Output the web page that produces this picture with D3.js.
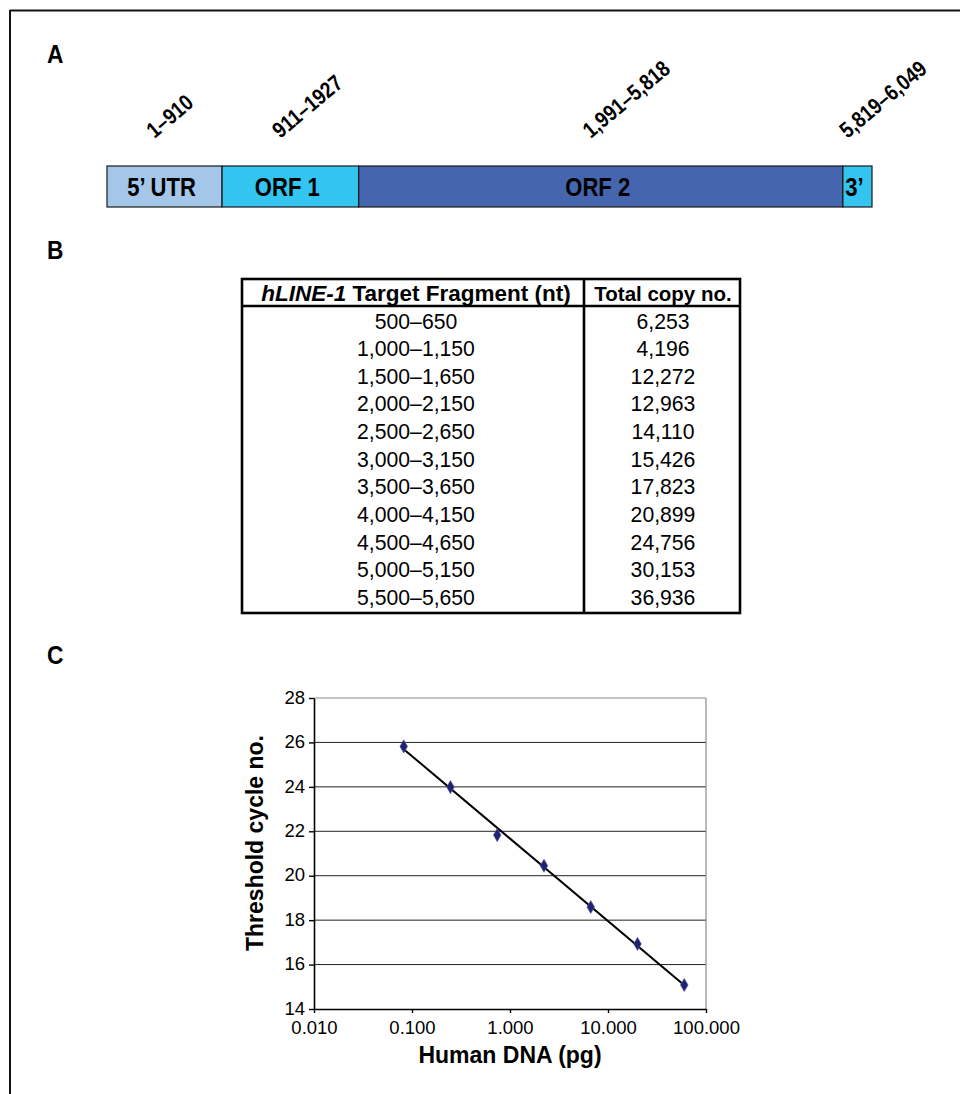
<!DOCTYPE html>
<html>
<head>
<meta charset="utf-8">
<script src="https://cdn.jsdelivr.net/npm/d3@7"></script>
<style>
  html, body { margin: 0; padding: 0; background: #fff; }
  svg { display: block; font-family: "Liberation Sans", Arial, Helvetica, sans-serif; }
</style>
</head>
<body>
<svg id="fig" width="960" height="1094"></svg>
<script>
// ---------- Panel A data ----------
const segNames  = ["5\u2019 UTR", "ORF 1", "ORF 2", "3\u2019"];
const segStarts = [1, 911, 1991, 5819];
const segEnds   = [910, 1927, 5818, 6049];
const segRanges = ["1\u2013910", "911\u20131927", "1,991\u20135,818", "5,819\u20136,049"];
const segColors = ["#a3c6e9", "#33c4f0", "#4565ae", "#33c4f0"];

// ---------- Panel B data ----------
const fragments = ["500\u2013650", "1,000\u20131,150", "1,500\u20131,650", "2,000\u20132,150",
  "2,500\u20132,650", "3,000\u20133,150", "3,500\u20133,650", "4,000\u20134,150",
  "4,500\u20134,650", "5,000\u20135,150", "5,500\u20135,650"];
const copyNumbers = [6253, 4196, 12272, 12963, 14110, 15426, 17823, 20899, 24756, 30153, 36936];

// ---------- Panel C data ----------
const humanDNA = [0.0823, 0.247, 0.741, 2.222, 6.667, 20, 60];
const thresholdCycle = [25.82, 23.99, 21.83, 20.45, 18.59, 16.93, 15.08];
const xTickValues = [0.01, 0.1, 1, 10, 100];
const yTickValues = [14, 16, 18, 20, 22, 24, 26, 28];

const svg = d3.select("#fig");

// Outer frame (top and left edges)
svg.append("line").attr("x1", 10).attr("x2", 960).attr("y1", 10.5).attr("y2", 10.5)
  .attr("stroke", "#111").attr("stroke-width", 2);
svg.append("line").attr("x1", 10).attr("x2", 10).attr("y1", 10).attr("y2", 1094)
  .attr("stroke", "#111").attr("stroke-width", 2);

// Panel letters
[["A", 63], ["B", 259], ["C", 664]].forEach(([t, y]) => {
  svg.append("text").attr("transform", `translate(47,${y}) scale(0.95,1.08)`).text(t)
    .attr("font-size", 24).attr("font-weight", "bold").attr("fill", "#000");
});

// ---------- Panel A ----------
const xA = d3.scaleLinear().domain([1, 6049]).range([107, 872]);
const segs = segNames.map((n, i) => ({
  name: n, start: segStarts[i],
  end: i < segNames.length - 1 ? segStarts[i + 1] - 1 : segEnds[i],
  label: segRanges[i], color: segColors[i]
}));
const gA = svg.append("g");
gA.selectAll("rect").data(segs).join("rect")
  .attr("x", d => xA(d.start)).attr("width", d => xA(d.end) - xA(d.start))
  .attr("y", 166).attr("height", 41)
  .attr("fill", d => d.color).attr("stroke", "#1a1a1a").attr("stroke-width", 1.2);
gA.selectAll("text.seg").data(segs).join("text").attr("class", "seg")
  .attr("transform", d => `translate(${(xA(d.start) + xA(d.end)) / 2 - 3},195.5) scale(0.92,1.05)`)
  .attr("text-anchor", "middle").attr("font-size", 24).attr("font-weight", "bold")
  .attr("fill", "#000").text(d => d.name);
gA.selectAll("text.rng").data(segs).join("text").attr("class", "rng")
  .attr("transform", d => `translate(${(xA(d.start) + xA(d.end)) / 2 - 10},139) rotate(-40) scale(0.95,1.12)`)
  .attr("font-size", 20).attr("font-weight", "bold").attr("fill", "#000")
  .text(d => d.label);

// ---------- Panel B (table) ----------
const tL = 242, tR = 740, tT = 279, tB = 613, tH = 306, tDiv = 584;
const gB = svg.append("g");
gB.append("rect").attr("x", tL).attr("y", tT).attr("width", tR - tL).attr("height", tB - tT)
  .attr("fill", "none").attr("stroke", "#000").attr("stroke-width", 2.6);
gB.append("line").attr("x1", tL).attr("x2", tR).attr("y1", tH).attr("y2", tH)
  .attr("stroke", "#000").attr("stroke-width", 2.6);
gB.append("line").attr("x1", tDiv).attr("x2", tDiv).attr("y1", tT).attr("y2", tB)
  .attr("stroke", "#000").attr("stroke-width", 2.6);
const c1 = (tL + tDiv) / 2 + 3, c2 = (tDiv + tR) / 2 + 1;
const h1 = gB.append("text").attr("x", c1).attr("y", 301).attr("text-anchor", "middle")
  .attr("font-size", 22.5).attr("font-weight", "bold");
h1.append("tspan").attr("font-style", "italic").text("hLINE-1");
h1.append("tspan").text(" Target Fragment (nt)");
gB.append("text").attr("x", c2).attr("y", 301).attr("text-anchor", "middle")
  .attr("font-size", 20.5).attr("font-weight", "bold").text("Total copy no.");
const yRow = d3.scalePoint().domain(fragments).range([328.5, 605]);
const fmt = d3.format(",");
gB.selectAll("text.frag").data(fragments).join("text").attr("class", "frag")
  .attr("x", c1).attr("y", d => yRow(d)).attr("text-anchor", "middle")
  .attr("font-size", 21.2).text(d => d);
gB.selectAll("text.cn").data(copyNumbers).join("text").attr("class", "cn")
  .attr("x", c2).attr("y", (d, i) => yRow(fragments[i])).attr("text-anchor", "middle")
  .attr("font-size", 21.2).text(d => fmt(d));

// ---------- Panel C (standard curve) ----------
const pL = 314, pR = 706, pT = 698, pB = 1009;
const xC = d3.scaleLog().domain([0.01, 100]).range([pL, pR]);
const yC = d3.scaleLinear().domain([14, 28]).range([pB, pT]);
const gC = svg.append("g");

// gridlines
gC.selectAll("line.grid").data(yTickValues.filter(v => v > 14)).join("line").attr("class", "grid")
  .attr("x1", pL).attr("x2", pR).attr("y1", d => yC(d)).attr("y2", d => yC(d))
  .attr("stroke", d => d === 28 ? "#8a8a8a" : "#222").attr("stroke-width", 1);
// right border
gC.append("line").attr("x1", pR).attr("x2", pR).attr("y1", pT).attr("y2", pB)
  .attr("stroke", "#8a8a8a").attr("stroke-width", 1.2);

const xAxis = d3.axisBottom(xC).tickValues(xTickValues).tickFormat(d3.format(".3f"))
  .tickSize(4).tickSizeOuter(0);
const yAxis = d3.axisLeft(yC).tickValues(yTickValues).tickFormat(d3.format("d"))
  .tickSize(5).tickSizeOuter(0);
const gx = gC.append("g").attr("transform", `translate(0,${pB})`).call(xAxis);
const gy = gC.append("g").attr("transform", `translate(${pL},0)`).call(yAxis);
[gx, gy].forEach(g => {
  g.attr("font-size", 18.5).attr("font-family", "'Liberation Sans', Arial, sans-serif");
  g.select(".domain").attr("stroke", "#000").attr("stroke-width", 1.6);
  g.selectAll(".tick line").attr("stroke", "#000").attr("stroke-width", 1.4);
  g.selectAll(".tick text").attr("font-size", 18.5).attr("fill", "#000");
});
gx.selectAll(".tick text").attr("dy", "0.9em").attr("y", 8);
gy.selectAll(".tick text").attr("x", -9).attr("dy", "0.28em");

// regression line (log10 x)
const lx = humanDNA.map(Math.log10);
const mx = d3.mean(lx), my = d3.mean(thresholdCycle);
const slope = d3.sum(lx.map((v, i) => (v - mx) * (thresholdCycle[i] - my))) /
              d3.sum(lx.map(v => (v - mx) * (v - mx)));
const icpt = my - slope * mx;
const ends = [d3.min(humanDNA), d3.max(humanDNA)];
gC.append("path")
  .attr("d", d3.line().x(d => xC(d)).y(d => yC(icpt + slope * Math.log10(d)))(ends))
  .attr("stroke", "#000").attr("stroke-width", 2).attr("fill", "none");

// data markers
gC.selectAll("path.pt").data(humanDNA).join("path").attr("class", "pt")
  .attr("transform", (d, i) => `translate(${xC(d)},${yC(thresholdCycle[i])})`)
  .attr("d", d3.symbol(d3.symbolDiamond, 50))
  .attr("fill", "#1f2270").attr("stroke", "#5a5ca0").attr("stroke-width", 0.6);

// axis titles
gC.append("text").attr("x", 510).attr("y", 1063).attr("text-anchor", "middle")
  .attr("font-size", 23).attr("font-weight", "bold").text("Human DNA (pg)");
gC.append("text").attr("transform", "translate(263,843) rotate(-90)")
  .attr("text-anchor", "middle").attr("font-size", 23).attr("font-weight", "bold")
  .text("Threshold cycle no.");
</script>
</body>
</html>
